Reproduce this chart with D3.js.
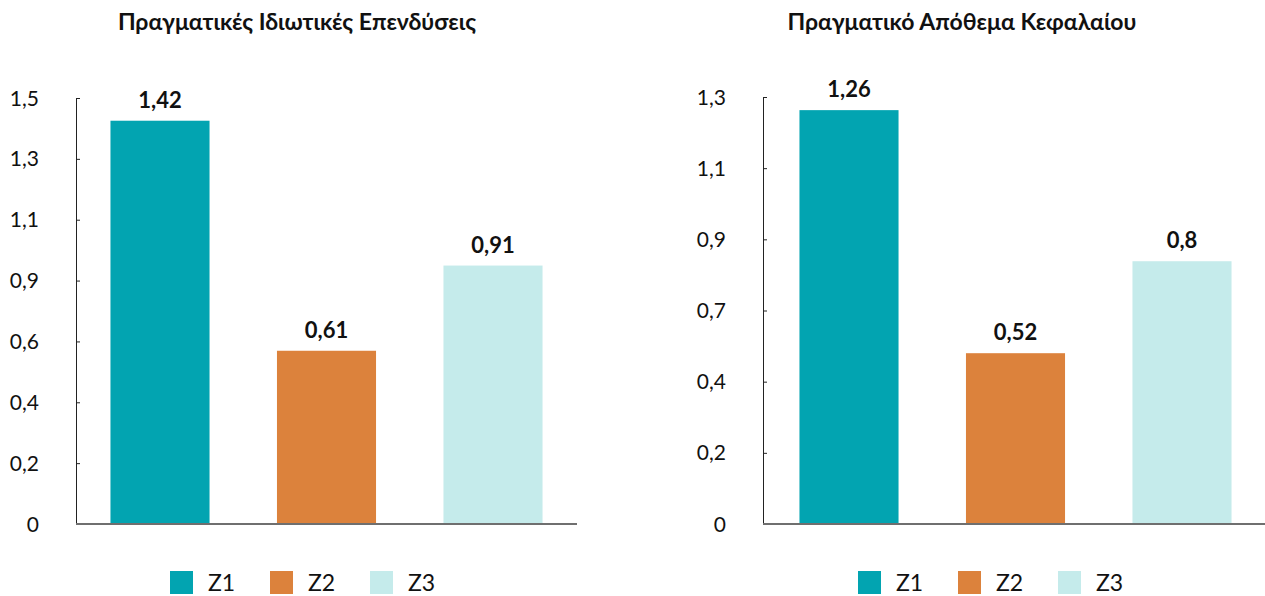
<!DOCTYPE html>
<html><head><meta charset="utf-8">
<script src="https://cdn.jsdelivr.net/npm/d3@7"></script>
<style>
html,body{margin:0;padding:0;background:#fff;}
svg{display:block;}
text{font-family:Lato,"Open Sans",sans-serif;fill:#111;}
</style></head>
<body>
<svg id="chart" width="1265" height="596"></svg>
<script>
const categories = ["Z1", "Z2", "Z3"];
const titles = ["Πραγματικές Ιδιωτικές Επενδύσεις", "Πραγματικό Απόθεμα Κεφαλαίου"];
const investmentValues = [1.42, 0.61, 0.91];
const capitalValues = [1.26, 0.52, 0.8];
const investmentValueLabels = ["1,42", "0,61", "0,91"];
const capitalValueLabels = ["1,26", "0,52", "0,8"];
const investmentTickLabels = ["0", "0,2", "0,4", "0,6", "0,9", "1,1", "1,3", "1,5"];
const capitalTickLabels = ["0", "0,2", "0,4", "0,7", "0,9", "1,1", "1,3"];
const investmentMax = 1.5;
const capitalMax = 1.3;
const colors = ["#02A4B1", "#DC823C", "#C5EBEB"];

const svg = d3.select("#chart");

function panel(opts) {
  const g = svg.append("g");
  const x = d3.scaleBand().domain(categories).range([opts.bandStart, opts.bandStart + 501]).paddingInner(0.405).paddingOuter(0.207);
  const y = d3.scaleLinear().domain([0, opts.max]).range([524, opts.top]);
  const n = opts.tickLabels.length - 1;
  const tickVals = opts.tickLabels.map((_, i) => opts.max * i / n);

  g.append("text").attr("x", opts.titleX).attr("y", 30).attr("text-anchor", "middle")
    .style("font-weight", "bold").style("font-size", "23px").text(opts.title);

  // y axis
  const yAxis = d3.axisRight(y).tickValues(tickVals).tickSize(4).tickFormat("");
  const ya = g.append("g").attr("transform", `translate(${opts.x0},0)`).call(yAxis);
  ya.select(".domain").attr("stroke", "#222").attr("stroke-width", 1);
  ya.selectAll(".tick line").attr("stroke", "#222");

  g.selectAll(".ylab").data(tickVals).join("text").attr("class", "ylab")
    .attr("x", opts.x0 - 37).attr("y", d => y(d)).attr("dy", "0.36em")
    .attr("text-anchor", "end").style("font-size", "21px")
    .text((d, i) => opts.tickLabels[i]);

  g.selectAll(".bar").data(opts.values).join("rect").attr("class", "bar")
    .attr("x", (d, i) => x(categories[i])).attr("width", x.bandwidth())
    .attr("y", d => y(d)).attr("height", d => y(0) - y(d))
    .attr("fill", (d, i) => colors[i]);

  g.selectAll(".vlab").data(opts.values).join("text").attr("class", "vlab")
    .attr("x", (d, i) => x(categories[i]) + x.bandwidth() / 2).attr("y", d => y(d) - 13)
    .attr("text-anchor", "middle").style("font-weight", "bold").style("font-size", "22px")
    .text((d, i) => opts.valueLabels[i]);

  // baseline
  g.append("line").attr("x1", opts.x0).attr("x2", opts.x1).attr("y1", y(0)).attr("y2", y(0))
    .attr("stroke", "#6f6f6f").attr("stroke-width", 2);

  // legend
  const lg = g.selectAll(".leg").data(categories).join("g").attr("class", "leg")
    .attr("transform", (d, i) => `translate(${opts.legX + i * 100},571)`);
  lg.append("rect").attr("width", 23).attr("height", 23).attr("fill", (d, i) => colors[i]);
  lg.append("text").attr("x", 38).attr("y", 12).attr("dy", "0.36em").style("font-size", "23px").text(d => d);
}

panel({x0: 76, x1: 577, bandStart: 76, top: 98, max: investmentMax, tickLabels: investmentTickLabels,
  values: investmentValues, valueLabels: investmentValueLabels, title: titles[0], titleX: 297, legX: 170});
panel({x0: 763, x1: 1265, bandStart: 765, top: 97, max: capitalMax, tickLabels: capitalTickLabels,
  values: capitalValues, valueLabels: capitalValueLabels, title: titles[1], titleX: 962, legX: 858});
</script>
</body></html>
